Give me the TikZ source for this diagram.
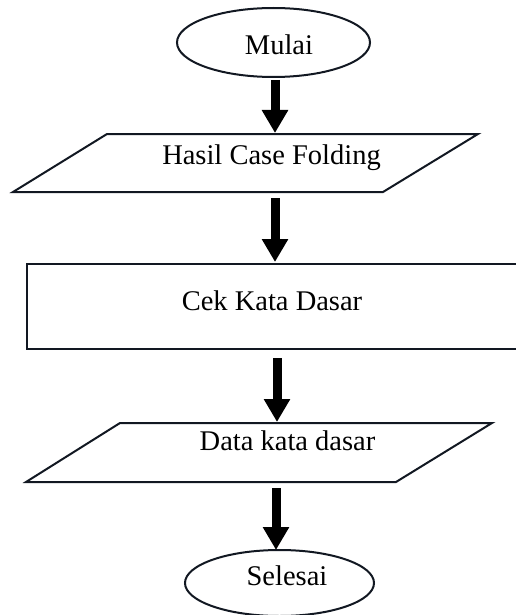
\documentclass[tikz,border=0pt]{standalone}
\usepackage{fontspec}
\setmainfont{Liberation Serif}
\usetikzlibrary{shapes.geometric,arrows.meta}
\definecolor{edge}{RGB}{18,24,34}
\tikzset{
  outline/.style={draw=edge, line width=2pt, line join=miter},
  terminal/.style={outline, ellipse, inner sep=0pt},
  label/.style={anchor=base, inner sep=0pt, font=\fontsize{28.5}{34}\selectfont},
  flow/.style={line width=9pt, draw=black, -{Triangle[width=25pt,length=23pt]}}
}
\begin{document}
\begin{tikzpicture}[x=1pt,y=-1pt]
  \useasboundingbox (0,0) rectangle (516,615);

  % start terminal
  \node[terminal, minimum width=193pt, minimum height=69pt] (mulai) at (273.5,42.5) {};
  \node[label] (mulaiT) at (279,55) {Mulai};

  % input: case folding result
  \coordinate (p1a) at (107,134);
  \coordinate (p1b) at (478,134);
  \coordinate (p1c) at (383,192);
  \coordinate (p1d) at (13,192);
  \draw[outline] (p1a) -- (p1b) -- (p1c) -- (p1d) -- cycle;
  \node[label] (hasilT) at (271.5,164) {Hasil Case Folding};

  % process: root word check (runs past the right edge)
  \coordinate (r1) at (530,264);
  \coordinate (r2) at (27,264);
  \coordinate (r3) at (27,349);
  \coordinate (r4) at (530,349);
  \draw[outline] (r1) -- (r2) -- (r3) -- (r4);
  \node[label] (cekT) at (272,310) {Cek Kata Dasar};

  % output: root word data
  \coordinate (p2a) at (120,423);
  \coordinate (p2b) at (492,423);
  \coordinate (p2c) at (396,482);
  \coordinate (p2d) at (26,482);
  \draw[outline] (p2a) -- (p2b) -- (p2c) -- (p2d) -- cycle;
  \node[label] (dataT) at (287.5,450) {Data kata dasar};

  % end terminal
  \node[terminal, minimum width=189pt, minimum height=66pt] (selesai) at (279.5,583) {};
  \node[label] (selesaiT) at (287,585) {Selesai};

  % arrow anchors
  \coordinate (f1s) at (275,80);
  \coordinate (f1e) at (275,133);
  \coordinate (f2s) at (275,198);
  \coordinate (f2e) at (275,262);
  \coordinate (f3s) at (277,358);
  \coordinate (f3e) at (277,422);
  \coordinate (f4s) at (276,488);
  \coordinate (f4e) at (276,550);

  \draw[flow] (f1s) -- (f1e);
  \draw[flow] (f2s) -- (f2e);
  \draw[flow] (f3s) -- (f3e);
  \draw[flow] (f4s) -- (f4e);
\end{tikzpicture}
\end{document}
